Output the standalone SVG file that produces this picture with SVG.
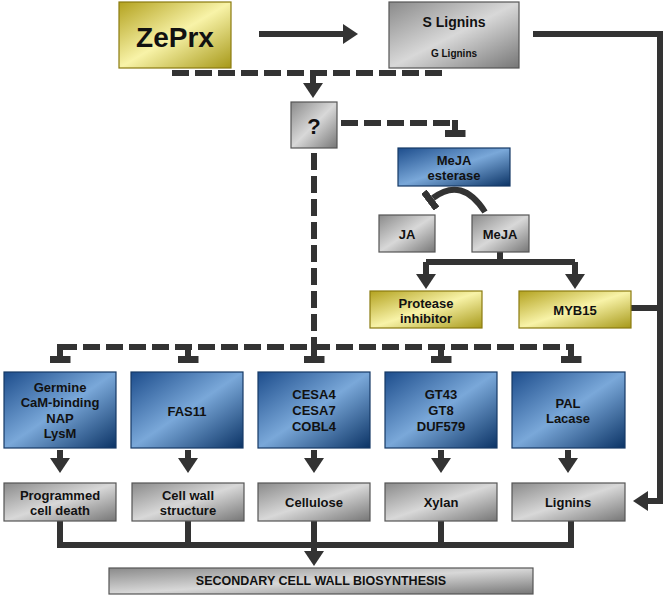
<svg xmlns="http://www.w3.org/2000/svg" width="666" height="597" viewBox="0 0 666 597">
<defs>
<linearGradient id="gGray" x1="0" y1="0" x2="1" y2="1"><stop offset="0" stop-color="#8a8a8a"/><stop offset="0.5" stop-color="#d8d8d8"/><stop offset="1" stop-color="#767676"/></linearGradient>
<linearGradient id="gYel" x1="0" y1="0" x2="1" y2="1"><stop offset="0" stop-color="#b3a21f"/><stop offset="0.5" stop-color="#f8f3a8"/><stop offset="1" stop-color="#a69818"/></linearGradient>
<linearGradient id="gBlue" x1="0" y1="0" x2="1" y2="1"><stop offset="0" stop-color="#1d4d8c"/><stop offset="0.5" stop-color="#7aa8d9"/><stop offset="1" stop-color="#0b3365"/></linearGradient>
<marker id="arr" viewBox="0 0 15 20" refX="1" refY="10" markerWidth="15" markerHeight="20" markerUnits="userSpaceOnUse" orient="auto"><path d="M0,0 L15,10 L0,20 Z" fill="#333"/></marker>
<marker id="tee" viewBox="0 0 7 21" refX="0" refY="10.5" markerWidth="7" markerHeight="21" markerUnits="userSpaceOnUse" orient="auto"><rect x="0" y="0" width="7" height="21" fill="#333"/></marker>
<style>
.gray{fill:url(#gGray);stroke:#555;stroke-width:1.2}
.yel{fill:url(#gYel);stroke:#8a7b10;stroke-width:1.2}
.blue{fill:url(#gBlue);stroke:#163a66;stroke-width:1.2}
text{font-family:"Liberation Sans",Arial,sans-serif;font-weight:bold;fill:#111;text-anchor:middle;dominant-baseline:central}
.t13{font-size:13px}
.ln{fill:none;stroke:#333;stroke-width:6}
.dash{fill:none;stroke:#333;stroke-width:6;stroke-dasharray:17 6}
</style>
</defs>

<g id="connectors">
<path class="ln" d="M259,34 H344" marker-end="url(#arr)"/>
<path class="ln" d="M533,34 H660 V501 H647" marker-end="url(#arr)"/>
<path class="ln" d="M631,308 H660"/>
<path class="dash" d="M172,73 H445"/>
<path class="ln" d="M313,73 V84" marker-end="url(#arr)"/>
<path class="dash" d="M341,123 H452"/>
<path class="ln" d="M455,120 V130" marker-end="url(#tee)"/>
<path class="ln" d="M485,212 Q462,176 433,198" stroke-width="7" marker-end="url(#tee)"/>
<path class="ln" d="M500,252 V262"/>
<path class="ln" d="M426,262 H575"/>
<path class="ln" d="M426,262 V275" marker-end="url(#arr)"/>
<path class="ln" d="M575,262 V275" marker-end="url(#arr)"/>
<path class="dash" d="M314,153 V347"/>
<path class="dash" d="M60,347 H571"/>
<path class="ln" d="M60,344 V356" marker-end="url(#tee)"/>
<path class="ln" d="M188,344 V356" marker-end="url(#tee)"/>
<path class="ln" d="M314,344 V356" marker-end="url(#tee)"/>
<path class="ln" d="M441,344 V356" marker-end="url(#tee)"/>
<path class="ln" d="M571,344 V356" marker-end="url(#tee)"/>
<path class="ln" d="M60,450 V459" marker-end="url(#arr)"/>
<path class="ln" d="M188,450 V459" marker-end="url(#arr)"/>
<path class="ln" d="M314,450 V459" marker-end="url(#arr)"/>
<path class="ln" d="M441,450 V459" marker-end="url(#arr)"/>
<path class="ln" d="M568,450 V459" marker-end="url(#arr)"/>
<path class="ln" d="M60,521 V545 H571 V521"/>
<path class="ln" d="M188,521 V545"/>
<path class="ln" d="M441,521 V545"/>
<path class="ln" d="M314,521 V552" marker-end="url(#arr)"/>
</g>

<g id="zeprx"><rect class="yel" x="119" y="2" width="112" height="66"/><text x="175" y="37" style="font-size:28px">ZePrx</text></g>
<g id="lignins-sg"><rect class="gray" x="389" y="2" width="130" height="66"/><text x="454" y="22" style="font-size:14px">S Lignins</text><text x="454" y="53" style="font-size:10px">G Lignins</text></g>
<g id="unknown"><rect class="gray" x="291" y="102" width="46" height="46"/><text x="314" y="126" style="font-size:22px">?</text></g>
<g id="meja-esterase"><rect class="blue" x="398" y="148" width="112" height="38"/><text class="t13" x="454" y="160">MeJA</text><text class="t13" x="454" y="175">esterase</text></g>
<g id="ja"><rect class="gray" x="379" y="215" width="56" height="37"/><text class="t13" x="407" y="234">JA</text></g>
<g id="meja"><rect class="gray" x="472" y="215" width="57" height="37"/><text class="t13" x="500" y="234">MeJA</text></g>
<g id="protease"><rect class="yel" x="370" y="291" width="112" height="37"/><text class="t13" x="426" y="303">Protease</text><text class="t13" x="426" y="318">inhibitor</text></g>
<g id="myb15"><rect class="yel" x="519" y="291" width="112" height="37"/><text class="t13" x="575" y="310">MYB15</text></g>

<g id="genes-pcd"><rect class="blue" x="4" y="372" width="112" height="76"/><text class="t13" x="60" y="387">Germine</text><text class="t13" x="60" y="402">CaM-binding</text><text class="t13" x="60" y="418">NAP</text><text class="t13" x="60" y="433">LysM</text></g>
<g id="genes-fas"><rect class="blue" x="131" y="372" width="112" height="76"/><text class="t13" x="187" y="411">FAS11</text></g>
<g id="genes-cesa"><rect class="blue" x="258" y="372" width="112" height="76"/><text class="t13" x="314" y="394">CESA4</text><text class="t13" x="314" y="410">CESA7</text><text class="t13" x="314" y="426">COBL4</text></g>
<g id="genes-gt"><rect class="blue" x="385" y="372" width="112" height="76"/><text class="t13" x="441" y="394">GT43</text><text class="t13" x="441" y="410">GT8</text><text class="t13" x="441" y="426">DUF579</text></g>
<g id="genes-pal"><rect class="blue" x="512" y="372" width="113" height="76"/><text class="t13" x="568" y="403">PAL</text><text class="t13" x="568" y="418">Lacase</text></g>

<g id="pcd"><rect class="gray" x="4" y="483" width="112" height="38"/><text class="t13" x="60" y="495">Programmed</text><text class="t13" x="60" y="510">cell death</text></g>
<g id="cellwall"><rect class="gray" x="132" y="483" width="112" height="38"/><text class="t13" x="188" y="495">Cell wall</text><text class="t13" x="188" y="510">structure</text></g>
<g id="cellulose"><rect class="gray" x="258" y="483" width="112" height="38"/><text class="t13" x="314" y="502">Cellulose</text></g>
<g id="xylan"><rect class="gray" x="385" y="483" width="112" height="38"/><text class="t13" x="441" y="502">Xylan</text></g>
<g id="lignins"><rect class="gray" x="512" y="483" width="113" height="38"/><text class="t13" x="568" y="502">Lignins</text></g>
<g id="scw"><rect class="gray" x="109" y="568" width="424" height="26"/><text x="321" y="581" style="font-size:12.5px">SECONDARY CELL WALL BIOSYNTHESIS</text></g>
</svg>
